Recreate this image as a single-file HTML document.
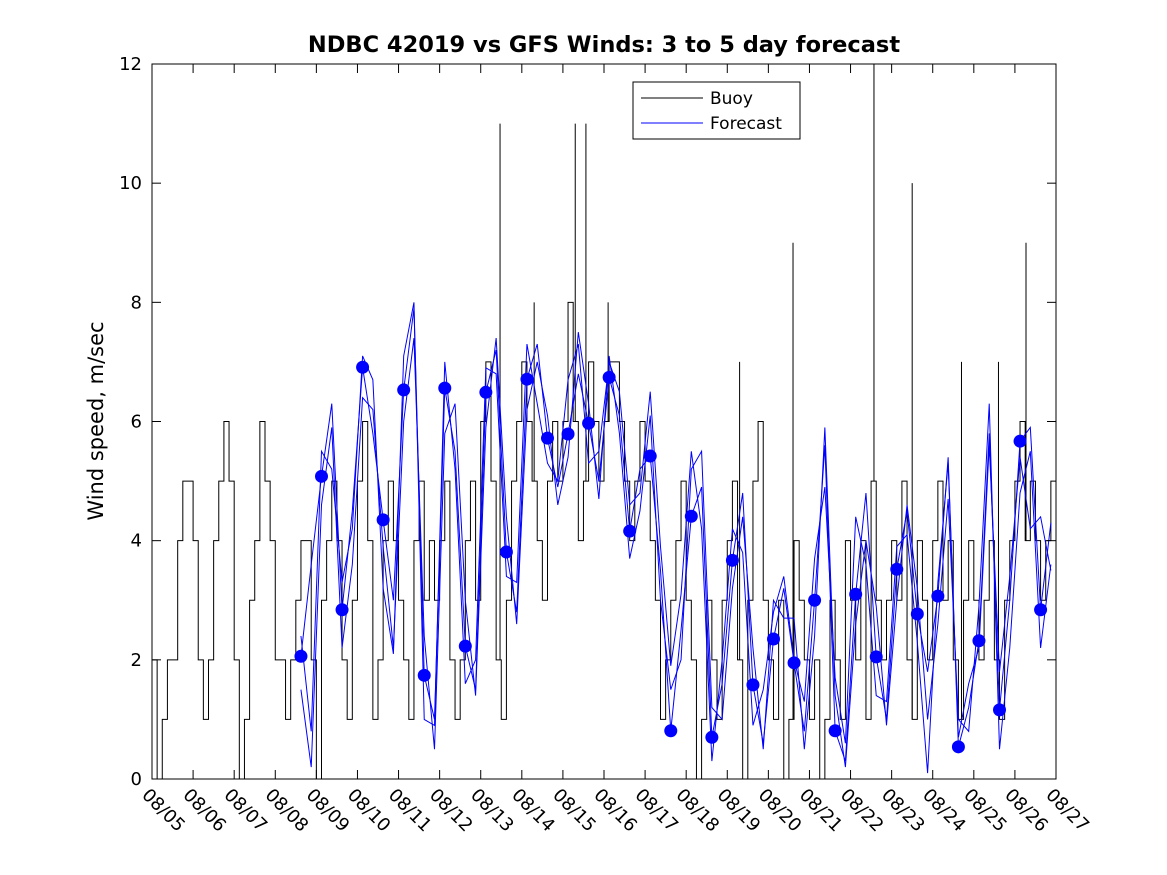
<!DOCTYPE html>
<html><head><meta charset="utf-8"><style>
body{margin:0;background:#fff;}
svg{display:block;font-family:"DejaVu Sans","Liberation Sans",sans-serif;}
</style></head><body>
<svg id="chart" width="1167" height="875" viewBox="0 0 1167 875" xmlns="http://www.w3.org/2000/svg">
<rect x="0" y="0" width="1167" height="875" fill="#fff"/>
<text x="604" y="52" text-anchor="middle" font-size="22.5" font-weight="bold">NDBC 42019 vs GFS Winds: 3 to 5 day forecast</text>
<text transform="translate(103,421) rotate(-90)" text-anchor="middle" font-size="21">Wind speed, m/sec</text>
<g id="grid"></g>
<g id="buoy"></g>
<g id="fc"></g>
<g id="dots"></g>
<rect x="152" y="64" width="904" height="715" fill="none" stroke="#000" stroke-width="1"/>
<g id="axes"></g>
<g>
<rect x="633" y="82" width="167" height="57" fill="#fff" stroke="#000" stroke-width="1"/>
<line x1="641" y1="98" x2="703" y2="98" stroke="#000"/>
<text x="710" y="104" font-size="17">Buoy</text>
<line x1="641" y1="123" x2="703" y2="123" stroke="#00f"/>
<text x="710" y="129" font-size="17">Forecast</text>
</g>
</svg>
<script>
const xTickLabels=["08/05","08/06","08/07","08/08","08/09","08/10","08/11","08/12","08/13","08/14","08/15","08/16","08/17","08/18","08/19","08/20","08/21","08/22","08/23","08/24","08/25","08/26","08/27"];
const yTicks=[0,2,4,6,8,10,12];
const buoy=[2,0,1,2,2,4,5,5, 4,2,1,2,4,5,6,5, 2,0,1,3,4,6,5,4, 2,2,1,2,3,4,4,2, 0,3,4,5,4,2,1,3, 5,6,4,1,2,4,5,4, 3,2,1,4,5,3,4,3, 4,5,2,1,2,4,5,3, 6,7,5,2,1,3,5,6, 7,6,5,4,3,5,6,5, 6,8,6,4,5,7,6,5, 6,7,7,6,5,4,5,6, 5,4,3,1,2,3,4,5, 3,2,0,1,3,2,1,3, 4,5,2,0,3,5,6,3, 2,1,3,0,1,4,3,2, 1,2,0,1,3,2,1,4, 3,2,4,1,5,3,2,3, 4,3,5,2,1,4,3,2, 4,5,3,4,2,1,3,4, 3,2,3,4,2,1,3,4, 5,6,4,5,4,3,4,5];
const spikeDays=[8.47,10.3,10.56,15.6,17.57,18.5,21.27,9.3,11.1,14.3,19.7,20.6];
const spikeVals=[11,11,11,9,12,10,9,8,8,7,7,7];
const dotVals=[2.06,5.08,2.84,6.91,4.35,6.53,1.74,6.56,2.23,6.49,3.81,6.71,5.72,5.79,5.97,6.74,4.16,5.42,0.81,4.41,0.70,3.67,1.58,2.35,1.95,3.0,0.81,3.10,2.05,3.52,2.77,3.07,0.54,2.32,1.16,5.67,2.84];
const fcA=[2.06,3.6,5.08,6.3,2.84,4.5,6.91,5.8,4.35,3.0,6.53,7.9,1.74,1.0,6.56,5.5,2.23,1.5,6.49,7.2,3.81,2.8,6.71,7.3,5.72,4.9,5.79,6.8,5.97,5.0,6.74,6.1,4.16,5.2,5.42,3.5,0.81,2.5,4.41,4.9,0.70,1.6,3.67,4.8,1.58,0.6,2.35,3.2,1.95,0.8,3.0,5.6,0.81,0.3,3.10,4.8,2.05,1.0,3.52,4.5,2.77,1.8,3.07,5.4,0.54,1.2,2.32,5.8,1.16,3.0,5.67,5.9,2.84,4.3];
const fcB=[1.5,0.2,4.6,5.9,2.2,3.6,6.4,6.2,3.9,2.2,6.0,7.4,2.4,0.5,5.8,6.3,3.0,1.4,5.9,7.4,4.4,2.6,6.2,7.0,6.1,4.6,5.4,7.5,6.3,4.7,7.1,5.8,3.7,4.5,6.1,3.0,1.5,2.0,5.2,5.5,1.2,1.0,3.2,4.4,2.2,0.5,3.0,2.7,2.7,0.5,2.4,5.9,1.4,0.2,2.6,4.0,2.9,0.9,3.0,4.6,3.2,1.0,2.6,4.7,1.0,0.8,2.9,6.3,0.5,2.2,4.8,5.5,2.2,3.6];
const fcC=[2.4,0.8,5.5,5.2,3.3,4.2,7.1,6.7,3.2,2.1,7.1,8.0,1.0,0.9,7.0,5.2,1.6,2.0,6.9,6.8,3.4,3.3,7.3,6.3,5.3,5.0,6.7,7.3,5.3,5.5,7.0,6.5,4.6,4.8,6.5,3.9,1.9,3.1,5.5,4.2,0.3,2.0,4.2,3.8,0.9,1.5,2.8,3.4,2.0,1.3,3.7,4.9,1.7,0.6,4.4,3.6,1.4,1.3,3.9,4.1,2.3,0.1,3.3,5.3,0.7,1.6,2.2,5.6,1.8,3.4,5.4,4.2,4.4,3.5];

const NS="http://www.w3.org/2000/svg";
const X0=152,X1=1056,Y0=779,Y1=64;
const xs=d=>X0+d*(X1-X0)/22;
const ys=v=>Y0-v*(Y0-Y1)/12;
function mk(tag,attrs,parent){const e=document.createElementNS(NS,tag);for(const k in attrs)e.setAttribute(k,attrs[k]);parent.appendChild(e);return e;}

const axes=document.getElementById('axes');
yTicks.forEach(v=>{
  const y=ys(v);
  mk('line',{x1:X0,y1:y,x2:X0+9,y2:y,stroke:'#000'},axes);
  mk('line',{x1:X1,y1:y,x2:X1-9,y2:y,stroke:'#000'},axes);
  const t=mk('text',{x:X0-10,y:y+6,'text-anchor':'end','font-size':'18'},axes);
  t.textContent=v;
  
  
});
xTickLabels.forEach((lab,i)=>{
  const x=xs(i);
  mk('line',{x1:x,y1:Y0,x2:x,y2:Y0-9,stroke:'#000'},axes);
  mk('line',{x1:x,y1:Y1,x2:x,y2:Y1+9,stroke:'#000'},axes);
  const t=mk('text',{transform:`translate(${x-11},${Y0+17}) rotate(45)`,'font-size':'18'},axes);
  t.textContent=lab;
  
  
});

const bg=document.getElementById('buoy');
let d='';const step=22/buoy.length;
buoy.forEach((v,i)=>{const xa=xs(i*step),xb=xs((i+1)*step),y=ys(v);d+=(i?'L':'M')+xa+' '+y+'L'+xb+' '+y;});
const bp=mk('path',{d:d,fill:'none',stroke:'#000','stroke-width':'1'},bg);


spikeDays.forEach((sd,i)=>{
  const base=buoy[Math.min(buoy.length-1,Math.floor(sd/step))];
  const l=mk('line',{x1:xs(sd),y1:ys(base),x2:xs(sd),y2:ys(spikeVals[i]),stroke:'#000'},bg);
  
  
});

const fg=document.getElementById('fc');
[fcA,fcB,fcC].forEach(arr=>{
  const pts=arr.map((v,i)=>{let dd=3.625+i*0.25;return xs(Math.min(dd,22))+','+ys(v);}).join(' ');
  const p=mk('polyline',{points:pts,fill:'none',stroke:'#00f','stroke-width':'1'},fg);
  
  
});
const dg=document.getElementById('dots');
dotVals.forEach((v,i)=>{
  const c=mk('circle',{cx:xs(3.625+i*0.5),cy:ys(v),r:6.5,fill:'#00f'},dg);
  
  
});
</script>
</body></html>
